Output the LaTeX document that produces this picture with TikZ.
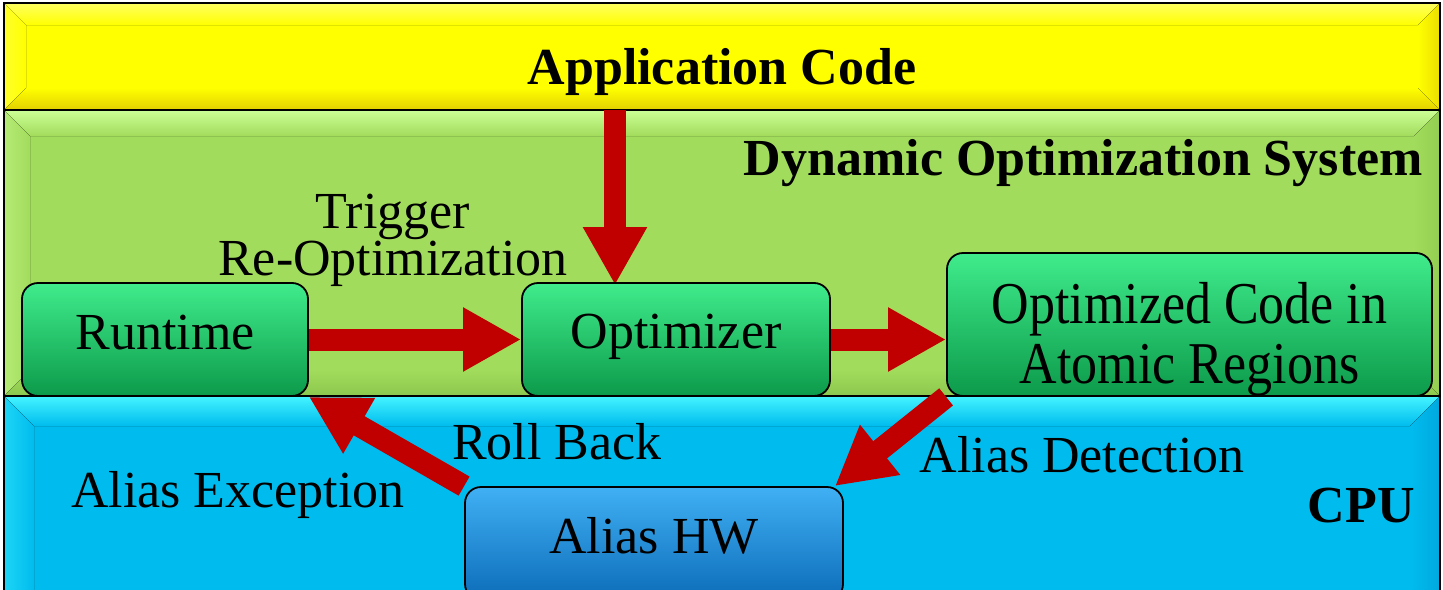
\documentclass[tikz,border=0pt]{standalone}
\usepackage{fontspec}
\setmainfont{Liberation Serif}
\usetikzlibrary{arrows.meta}

\definecolor{yellowbase}{HTML}{FFFF00}
\definecolor{yellowlight}{HTML}{FFFF60}
\definecolor{yellowdark}{HTML}{E2D000}
\definecolor{greenbase}{HTML}{A2DC5C}
\definecolor{greenlight}{HTML}{CCFF96}
\definecolor{greendark}{HTML}{8CC84E}
\definecolor{bluebase}{HTML}{00BCEE}
\definecolor{bluelight}{HTML}{44F4FF}
\definecolor{bluedark}{HTML}{00A0D8}
\definecolor{boxgreentop}{HTML}{40EC8C}
\definecolor{boxgreenmid}{HTML}{14B457}
\definecolor{boxgreenbot}{HTML}{0C9A4A}
\definecolor{boxbluetop}{HTML}{40B0F4}
\definecolor{boxbluemid}{HTML}{1785D5}
\definecolor{boxbluebot}{HTML}{0C6CB8}
\definecolor{arrowred}{HTML}{C00000}

\pgfdeclarelayer{bands}
\pgfdeclarelayer{arrows}
\pgfsetlayers{bands,arrows,main}

% bevelled band: x1 y1 x2 y2 base light dark bevel-width
\newcommand{\bevelband}[8]{%
  \fill[#5] (#1,#2) rectangle (#3,#4);
  \fill[top color=#6, bottom color=#5] (#1,#2) -- (#3,#2) -- ({#3-#8},{#2+#8}) -- ({#1+#8},{#2+#8}) -- cycle;
  \fill[left color=#6!45!#5, right color=#5] (#1,#2) -- ({#1+#8},{#2+#8}) -- ({#1+#8},{#4-#8}) -- (#1,#4) -- cycle;
  \fill[top color=#5, bottom color=#7] ({#1+#8},{#4-#8}) -- ({#3-#8},{#4-#8}) -- (#3,#4) -- (#1,#4) -- cycle;
  \fill[left color=#5, right color=#7!70!#5] ({#3-#8},{#2+#8}) -- (#3,#2) -- (#3,#4) -- ({#3-#8},{#4-#8}) -- cycle;
  \draw[line width=2pt, black] (#1,#2) rectangle (#3,#4);
}

\tikzset{
  every node/.style={font=\fontsize{52}{58}\selectfont, inner sep=0pt},
  bandlabel/.style={font=\fontsize{52}{58}\selectfont\bfseries, anchor=base},
  arrowlabel/.style={anchor=base},
  boxframe/.style={draw=black, line width=1.8pt, rounded corners=16pt,
    align=center, text depth=0pt},
  greenbox/.style={boxframe,
    top color=boxgreentop, middle color=boxgreenmid, bottom color=boxgreenbot},
  bluebox/.style={boxframe,
    top color=boxbluetop, middle color=boxbluemid, bottom color=boxbluebot},
  bigarrow/.style={draw=arrowred, line width=22pt,
    -{Triangle[width=60pt,length=58pt]}},
}

\begin{document}
\begin{tikzpicture}[x=1pt,y=-1pt]
\useasboundingbox (0,0) rectangle (1443,589);
\clip (0,0) rectangle (1443,589);

% layered bands
\begin{pgfonlayer}{bands}
  \bevelband{4}{3}{1440}{110}{yellowbase}{yellowlight}{yellowdark}{22}
  \bevelband{4}{110}{1440}{396}{greenbase}{greenlight}{greendark}{26}
  \bevelband{4}{396}{1440}{620}{bluebase}{bluelight}{bluedark}{30}
\end{pgfonlayer}

% band titles
\node[bandlabel] (apptitle) at (722,84) {Application Code};
\node[bandlabel, anchor=base east] (dostitle) at (1423,175) {Dynamic Optimization System};
\node[bandlabel, anchor=base east] (cputitle) at (1415,522) {CPU};

% component boxes (text height places the baseline inside each box)
\node[greenbox, minimum width=286pt, minimum height=113pt, text height=20pt]
      (run) at (165,339.5) {Runtime};
\node[greenbox, minimum width=308pt, minimum height=113pt, text height=17pt]
      (opt) at (676,339.5) {Optimizer};
\node[greenbox, minimum width=485pt, minimum height=143pt, text height=117pt,
      font=\fontsize{52}{60}\selectfont] (oc) at (1189.5,324.5)
      {\scalebox{1}[1.14]{Optimized Code in}\\\scalebox{1}[1.14]{Atomic Regions}};
\node[bluebox, minimum width=378pt, minimum height=113pt, text height=19pt]
      (alias) at (654,543.5) {Alias HW};

% connector labels
\node[arrowlabel, align=center, font=\fontsize{52}{47}\selectfont] (trig) at (393,275)
      {Trigger\\Re-Optimization};
\node[arrowlabel] (roll) at (557,459) {Roll Back};
\node[arrowlabel] (exc) at (238,507) {Alias Exception};
\node[arrowlabel] (det) at (1082,472) {Alias Detection};

% flow arrows
\coordinate (appbottom) at (615,110);
\begin{pgfonlayer}{arrows}
  \draw[bigarrow] (appbottom) -- ([yshift=-3pt]appbottom |- opt.north);
  \draw[bigarrow] (run.east) -- (opt.west);
  \draw[bigarrow] (opt.east) -- (opt.east -| oc.west);
  \draw[bigarrow] (oc.south west) -- ([xshift=-9pt]alias.north east);
  \draw[bigarrow] (alias.north west) -- (run.south east);
\end{pgfonlayer}
\end{tikzpicture}
\end{document}
